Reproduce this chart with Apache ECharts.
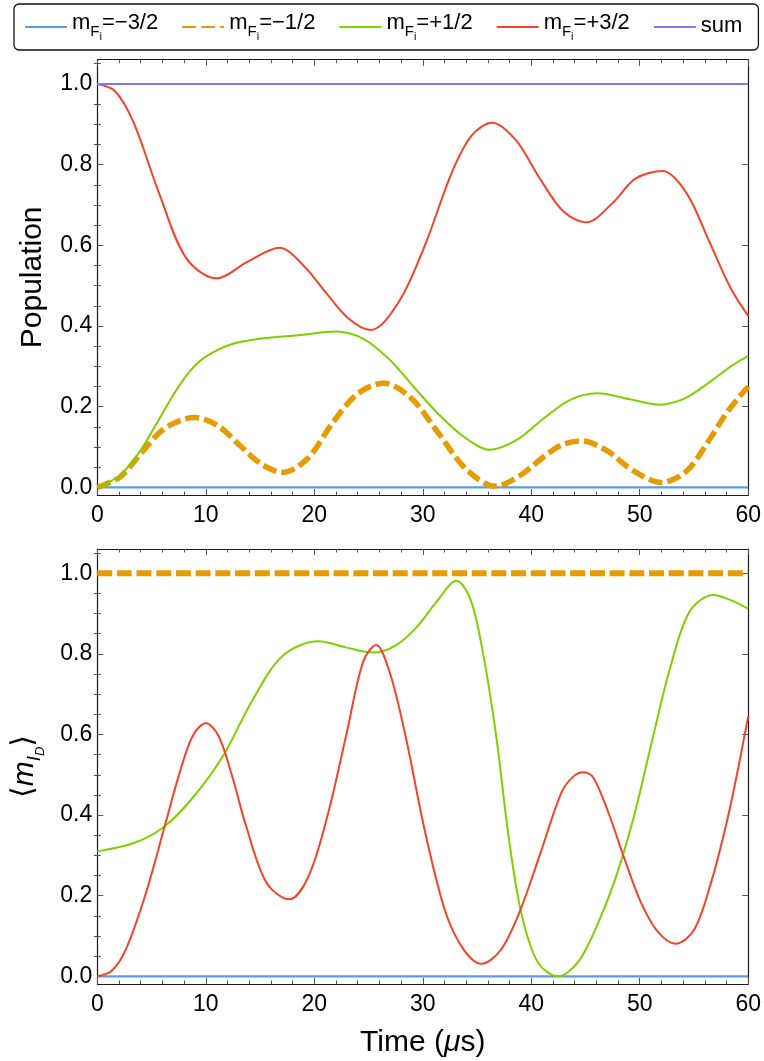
<!DOCTYPE html>
<html>
<head>
<meta charset="utf-8">
<script src="https://cdn.jsdelivr.net/npm/echarts@6/dist/echarts.min.js"></script>
<style>
  html, body { margin: 0; padding: 0; background: #fff; }
  #main { width: 764px; height: 1061px; }
</style>
</head>
<body>
<div id="main"></div>
<script>
// ---- data: [time (us), value] ----
// top panel: populations
var popM32 = [[0, 0], [60, 0]];
var popM12 = [[0, 0], [2.1, 0.026], [4.2, 0.09], [6.3, 0.148], [9, 0.173], [11.1, 0.153],
  [13.1, 0.105], [15.1, 0.058], [17.1, 0.037], [19.4, 0.072], [21.7, 0.16], [24, 0.232],
  [26.4, 0.258], [28.9, 0.222], [31.4, 0.136], [34, 0.045], [36.7, 0.003], [39, 0.03],
  [41.3, 0.079], [42.9, 0.106], [44.6, 0.115], [46.9, 0.092], [49.3, 0.043], [52, 0.012],
  [54.3, 0.04], [56.3, 0.113], [58.1, 0.188], [60, 0.25]];
var popP12 = [[0, 0], [2.1, 0.03], [3.9, 0.088], [5.4, 0.155], [7, 0.229], [8.5, 0.287],
  [10, 0.324], [12.5, 0.356], [15.5, 0.37], [18.5, 0.377], [22, 0.386], [24.6, 0.367],
  [27, 0.315], [29.3, 0.245], [31.5, 0.18], [33.8, 0.125], [36.2, 0.093], [38.7, 0.118],
  [41.2, 0.172], [43.6, 0.217], [46.1, 0.233], [49, 0.219], [51.8, 0.205], [54.2, 0.221],
  [56.5, 0.262], [58.3, 0.298], [60, 0.326]];
var popP32 = [[0, 1], [1.6, 0.983], [3.3, 0.907], [5.75, 0.725], [8.2, 0.568], [11, 0.518],
  [13.9, 0.56], [16.8, 0.594], [19, 0.55], [21, 0.485], [23.1, 0.42], [25.2, 0.39],
  [27.8, 0.46], [30.2, 0.6], [32.7, 0.782], [34.5, 0.872], [36.4, 0.904], [38.6, 0.86],
  [40.8, 0.765], [43, 0.683], [45.1, 0.657], [47.5, 0.705], [49.6, 0.765], [52.1, 0.784],
  [54.3, 0.73], [56.4, 0.61], [58.4, 0.493], [60, 0.425]];
var popSum = [[0, 1], [60, 1]];

// bottom panel: <m_ID>
var mM32 = [[0, 0], [60, 0]];
var mM12 = [[0, 1], [60, 1]];
var mP12 = [[0, 0.31], [3.3, 0.33], [6.1, 0.37], [8.8, 0.443], [11.6, 0.547], [14.3, 0.685],
  [17.1, 0.795], [20.4, 0.831], [22.9, 0.816], [25.4, 0.803], [27.4, 0.819], [29.4, 0.865],
  [31.3, 0.93], [33.1, 0.981], [34.4, 0.935], [35.6, 0.795], [36.8, 0.59], [37.9, 0.349],
  [39.1, 0.155], [40.6, 0.035], [42.5, 0], [44.3, 0.035], [46, 0.122], [47.7, 0.238],
  [49.4, 0.39], [51.1, 0.58], [52.8, 0.765], [54.6, 0.905], [56.8, 0.946], [58.5, 0.932],
  [60, 0.912]];
var mP32 = [[0, 0], [1.3, 0.013], [2.6, 0.065], [4.5, 0.208], [6.4, 0.391], [7.6, 0.506],
  [8.8, 0.597], [10, 0.628], [11.2, 0.595], [12.5, 0.49], [13.7, 0.374], [15.6, 0.232],
  [17.7, 0.191], [19.5, 0.25], [21.3, 0.407], [23, 0.605], [24.5, 0.78], [25.7, 0.822],
  [27, 0.75], [28.5, 0.585], [30.2, 0.36], [32.1, 0.159], [33.8, 0.065], [35.4, 0.031],
  [37.2, 0.066], [39, 0.165], [40.8, 0.302], [42.8, 0.457], [43.9, 0.496], [44.8, 0.506],
  [45.7, 0.494], [47.1, 0.407], [48.6, 0.291], [50.1, 0.184], [51.6, 0.113], [53.3, 0.081],
  [55, 0.115], [56.6, 0.235], [58, 0.38], [59, 0.506], [60, 0.645]];

var seriesNames = ['m-3/2', 'm-1/2', 'm+1/2', 'm+3/2', 'sum'];
var legendLabels = {
  'm-3/2': '{m|m}{s|F}{ss|i}{m|=\u22123/2}',
  'm-1/2': '{m|m}{s|F}{ss|i}{m|=\u22121/2}',
  'm+1/2': '{m|m}{s|F}{ss|i}{m|=+1/2}',
  'm+3/2': '{m|m}{s|F}{ss|i}{m|=+3/2}',
  'sum': '{m|sum}'
};
var yMajor = [0, 0.2, 0.4, 0.6, 0.8, 1.0];
var yMinor = [0.05, 0.1, 0.15, 0.25, 0.3, 0.35, 0.45, 0.5, 0.55, 0.65, 0.7, 0.75, 0.85, 0.9, 0.95, 1.05];

// ---- styles ----
var fontMain = "'Liberation Sans', Arial, sans-serif";
var frameColor = '#1a1a1a';
var tickColor = '#555';
var colBlue = '#5A9BE8', colOrange = '#E69C00', colGreen = '#7ED000', colRed = '#F2442A', colSum = '#7C78EE';

function xAxes(gi, withName) {
  var base = {
    type: 'value', gridIndex: gi, min: 0, max: 60, interval: 10,
    axisLine: { show: true, onZero: false, lineStyle: { color: frameColor, width: 1.2 } },
    axisTick: { show: true, inside: true, length: 6, lineStyle: { color: tickColor, width: 1 } },
    minorTick: { show: true, splitNumber: 5, length: 3.5, lineStyle: { color: tickColor, width: 1 } },
    splitLine: { show: false }, minorSplitLine: { show: false }
  };
  var bottom = Object.assign({}, base, {
    position: 'bottom',
    axisLabel: { show: true, margin: 9, fontSize: 23, color: '#000', fontFamily: fontMain }
  });
  if (withName) {
    bottom.name = '{r|Time (}{i|\u03bc}{r|s)}';
    bottom.nameLocation = 'middle';
    bottom.nameGap = 44;
    bottom.nameTextStyle = {
      rich: {
        r: { fontSize: 30, color: '#000', fontFamily: fontMain },
        i: { fontSize: 30, color: '#000', fontFamily: fontMain, fontStyle: 'italic' }
      }
    };
  }
  var top = Object.assign({}, base, { position: 'top', axisLabel: { show: false } });
  return [bottom, top];
}

function yAxes(gi, name, nameStyle) {
  var base = { type: 'value', gridIndex: gi, min: -0.019, max: 1.06, splitLine: { show: false } };
  var lineOn = { show: true, onZero: false, lineStyle: { color: frameColor, width: 1.2 } };
  var majorTick = { show: true, inside: true, length: 6, customValues: yMajor, lineStyle: { color: tickColor, width: 1 } };
  var minorTick = { show: true, inside: true, length: 3.5, customValues: yMinor, lineStyle: { color: tickColor, width: 1 } };
  var leftMajor = Object.assign({}, base, {
    position: 'left', axisLine: lineOn, axisTick: majorTick,
    axisLabel: {
      show: true, customValues: yMajor, margin: 5, fontSize: 23, color: '#000', fontFamily: fontMain,
      formatter: function (v) { return v.toFixed(1); }
    },
    name: name, nameLocation: 'middle', nameGap: 50, nameRotate: 90, nameTextStyle: nameStyle
  });
  var leftMinor = Object.assign({}, base, { position: 'left', axisLine: { show: false }, axisTick: minorTick, axisLabel: { show: false } });
  var rightMajor = Object.assign({}, base, { position: 'right', axisLine: lineOn, axisTick: majorTick, axisLabel: { show: false } });
  var rightMinor = Object.assign({}, base, { position: 'right', axisLine: { show: false }, axisTick: minorTick, axisLabel: { show: false } });
  return [leftMajor, leftMinor, rightMajor, rightMinor];
}

function line(name, data, gi, color, width, dash) {
  return {
    name: name, type: 'line', xAxisIndex: gi * 2, yAxisIndex: gi * 4, data: data,
    symbol: 'none', showSymbol: false, smooth: 0.33, animation: false,
    lineStyle: { color: color, width: width, type: dash || 'solid', cap: 'butt' },
    itemStyle: { color: color }
  };
}

var chart = echarts.init(document.getElementById('main'), null, { renderer: 'canvas' });

chart.setOption({
  animation: false,
  backgroundColor: '#fff',
  textStyle: { fontFamily: fontMain },
  legend: {
    data: seriesNames,
    left: 14, top: 4, width: 745,
    padding: [8, 16, 8, 10],
    itemWidth: 42, itemHeight: 14, itemGap: 23,
    itemStyle: { opacity: 0 },
    borderColor: '#111', borderWidth: 1.3, borderRadius: 5,
    formatter: function (n) { return legendLabels[n]; },
    textStyle: {
      color: '#000', fontFamily: fontMain,
      rich: {
        m: { fontSize: 22, color: '#000', verticalAlign: 'top', lineHeight: 25 },
        s: { fontSize: 15, color: '#000', verticalAlign: 'top', padding: [12, 0, 0, 0] },
        ss: { fontSize: 11, color: '#000', verticalAlign: 'top', padding: [19, 0, 0, 0] }
      }
    }
  },
  grid: [
    { left: 97.3, right: 12.7, top: 59.7, height: 435.3 },
    { left: 97.3, right: 12.7, top: 549, height: 435 }
  ],
  xAxis: xAxes(0, false).concat(xAxes(1, true)),
  yAxis: yAxes(0, 'Population', { fontSize: 30, color: '#000', fontFamily: fontMain })
    .concat(yAxes(1, '{b|\u27e8}{m|m}{s|I}{ss|D}{b|\u27e9}', {
      rich: {
        b: { fontSize: 30, color: '#000', fontFamily: "'DejaVu Sans', sans-serif", verticalAlign: 'top', lineHeight: 34 },
        m: { fontSize: 30, color: '#000', fontFamily: fontMain, fontStyle: 'italic', verticalAlign: 'top', lineHeight: 34 },
        s: { fontSize: 19, color: '#000', fontFamily: fontMain, fontStyle: 'italic', verticalAlign: 'top', padding: [16, 0, 0, 0] },
        ss: { fontSize: 13, color: '#000', fontFamily: fontMain, fontStyle: 'italic', verticalAlign: 'top', padding: [25, 0, 0, 0] }
      }
    })),
  series: [
    line('m-3/2', popM32, 0, colBlue, 2.2),
    line('m-1/2', popM12, 0, colOrange, 5.5, [14, 5]),
    line('m+1/2', popP12, 0, colGreen, 2),
    line('m+3/2', popP32, 0, colRed, 2),
    line('sum', popSum, 0, colSum, 2),
    line('m-3/2', mM32, 1, colBlue, 2.2),
    line('m-1/2', mM12, 1, colOrange, 6, [15, 4.7]),
    line('m+1/2', mP12, 1, colGreen, 2),
    line('m+3/2', mP32, 1, colRed, 2)
  ]
});
</script>
</body>
</html>
